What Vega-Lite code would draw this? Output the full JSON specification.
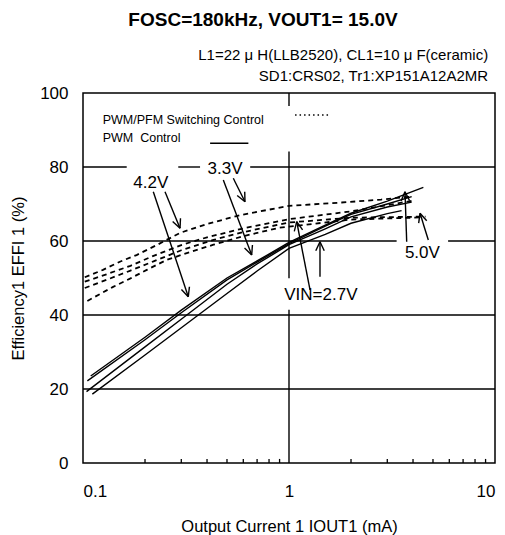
{
  "$schema": "https://vega.github.io/schema/vega-lite/v6.json",
  "width": 412,
  "height": 370,
  "autosize": {"type": "none"},
  "padding": {"left": 83, "top": 93, "right": 10, "bottom": 72},
  "title": {
    "text": "FOSC=180kHz, VOUT1= 15.0V",
    "anchor": "middle",
    "frame": "group",
    "dx": -26,
    "offset": 18,
    "fontSize": 19,
    "fontWeight": "bold",
    "font": "Liberation Sans",
    "color": "black"
  },
  "config": {
    "view": {"stroke": "black", "strokeWidth": 1.5},
    "font": "Liberation Sans",
    "axis": {
      "labelFont": "Liberation Sans",
      "titleFont": "Liberation Sans",
      "labelColor": "black",
      "titleColor": "black",
      "titleFontWeight": "normal",
      "grid": false,
      "domain": false
    }
  },
  "datasets": {
    "pwm": [
      {"s": "S1", "x": 0.109, "y": 23.5}, {"s": "S1", "x": 0.2, "y": 34.0}, {"s": "S1", "x": 0.3, "y": 41.3}, {"s": "S1", "x": 0.5, "y": 50.0}, {"s": "S1", "x": 0.7, "y": 54.6}, {"s": "S1", "x": 1.0, "y": 59.6}, {"s": "S1", "x": 1.5, "y": 64.3}, {"s": "S1", "x": 2.0, "y": 67.5}, {"s": "S1", "x": 3.0, "y": 70.8}, {"s": "S1", "x": 4.49, "y": 74.5},
      {"s": "S2", "x": 0.105, "y": 22.2}, {"s": "S2", "x": 0.2, "y": 33.3}, {"s": "S2", "x": 0.3, "y": 40.6}, {"s": "S2", "x": 0.5, "y": 49.5}, {"s": "S2", "x": 0.7, "y": 54.3}, {"s": "S2", "x": 1.0, "y": 59.3}, {"s": "S2", "x": 1.5, "y": 64.0}, {"s": "S2", "x": 2.0, "y": 67.2}, {"s": "S2", "x": 3.0, "y": 70.0}, {"s": "S2", "x": 3.94, "y": 72.0},
      {"s": "S3", "x": 0.104, "y": 19.3}, {"s": "S3", "x": 0.2, "y": 31.4}, {"s": "S3", "x": 0.319, "y": 40.0}, {"s": "S3", "x": 0.5, "y": 48.3}, {"s": "S3", "x": 0.7, "y": 53.8}, {"s": "S3", "x": 1.0, "y": 59.0}, {"s": "S3", "x": 1.5, "y": 63.3}, {"s": "S3", "x": 2.0, "y": 66.5}, {"s": "S3", "x": 3.0, "y": 69.2}, {"s": "S3", "x": 3.94, "y": 70.5},
      {"s": "S4", "x": 0.111, "y": 18.6}, {"s": "S4", "x": 0.2, "y": 29.2}, {"s": "S4", "x": 0.363, "y": 40.0}, {"s": "S4", "x": 0.5, "y": 45.8}, {"s": "S4", "x": 0.7, "y": 51.9}, {"s": "S4", "x": 1.0, "y": 58.0}, {"s": "S4", "x": 1.5, "y": 61.8}, {"s": "S4", "x": 2.0, "y": 64.8}, {"s": "S4", "x": 3.0, "y": 67.4}, {"s": "S4", "x": 3.52, "y": 68.2}
    ],
    "pfm": [
      {"s": "D1", "x": 0.102, "y": 50.2}, {"s": "D1", "x": 0.125, "y": 52.2}, {"s": "D1", "x": 0.151, "y": 54.4}, {"s": "D1", "x": 0.182, "y": 56.2}, {"s": "D1", "x": 0.228, "y": 58.9}, {"s": "D1", "x": 0.296, "y": 62.2}, {"s": "D1", "x": 0.4, "y": 64.6}, {"s": "D1", "x": 0.58, "y": 67.0}, {"s": "D1", "x": 1.0, "y": 69.5}, {"s": "D1", "x": 1.8, "y": 70.4}, {"s": "D1", "x": 2.8, "y": 71.2}, {"s": "D1", "x": 3.9, "y": 72.0},
      {"s": "D2", "x": 0.102, "y": 49.0}, {"s": "D2", "x": 0.13, "y": 51.0}, {"s": "D2", "x": 0.17, "y": 53.3}, {"s": "D2", "x": 0.22, "y": 56.0}, {"s": "D2", "x": 0.3, "y": 58.9}, {"s": "D2", "x": 0.4, "y": 61.0}, {"s": "D2", "x": 0.6, "y": 63.4}, {"s": "D2", "x": 1.0, "y": 65.9}, {"s": "D2", "x": 2.0, "y": 68.0}, {"s": "D2", "x": 4.1, "y": 71.0},
      {"s": "D3", "x": 0.102, "y": 47.3}, {"s": "D3", "x": 0.13, "y": 49.5}, {"s": "D3", "x": 0.17, "y": 52.0}, {"s": "D3", "x": 0.22, "y": 54.5}, {"s": "D3", "x": 0.3, "y": 57.5}, {"s": "D3", "x": 0.43, "y": 60.3}, {"s": "D3", "x": 0.6, "y": 62.4}, {"s": "D3", "x": 1.0, "y": 65.0}, {"s": "D3", "x": 2.0, "y": 66.3}, {"s": "D3", "x": 4.6, "y": 66.6},
      {"s": "D4", "x": 0.105, "y": 43.8}, {"s": "D4", "x": 0.14, "y": 47.6}, {"s": "D4", "x": 0.17, "y": 49.9}, {"s": "D4", "x": 0.204, "y": 52.2}, {"s": "D4", "x": 0.255, "y": 54.9}, {"s": "D4", "x": 0.31, "y": 56.5}, {"s": "D4", "x": 0.43, "y": 59.0}, {"s": "D4", "x": 0.6, "y": 61.3}, {"s": "D4", "x": 0.9, "y": 63.6}, {"s": "D4", "x": 2.0, "y": 65.8}, {"s": "D4", "x": 4.5, "y": 66.4}
    ],
    "grid": [
      {"x": 0.1, "x2": 10, "y": 20, "y2": 20},
      {"x": 0.1, "x2": 10, "y": 40, "y2": 40},
      {"x": 0.1, "x2": 3.33, "y": 60, "y2": 60},
      {"x": 5.92, "x2": 10, "y": 60, "y2": 60},
      {"x": 0.1, "x2": 0.163, "y": 80, "y2": 80},
      {"x": 0.29, "x2": 0.37, "y": 80, "y2": 80},
      {"x": 0.648, "x2": 10, "y": 80, "y2": 80},
      {"x": 1, "x2": 1, "y": 0, "y2": 41.4},
      {"x": 1, "x2": 1, "y": 49.9, "y2": 84.2},
      {"x": 1, "x2": 1, "y": 96.5, "y2": 100}
    ],
    "minorticks": [
      {"x": 0.2, "y": 0, "y2": 1.1}, {"x": 0.3, "y": 0, "y2": 1.1}, {"x": 0.4, "y": 0, "y2": 1.1}, {"x": 0.5, "y": 0, "y2": 1.1}, {"x": 0.6, "y": 0, "y2": 1.1}, {"x": 0.7, "y": 0, "y2": 1.1}, {"x": 0.8, "y": 0, "y2": 1.1}, {"x": 0.9, "y": 0, "y2": 1.1},
      {"x": 2, "y": 0, "y2": 1.1}, {"x": 3, "y": 0, "y2": 1.1}, {"x": 4, "y": 0, "y2": 1.1}, {"x": 5, "y": 0, "y2": 1.1}, {"x": 6, "y": 0, "y2": 1.1}, {"x": 7, "y": 0, "y2": 1.1}, {"x": 8, "y": 0, "y2": 1.1}, {"x": 9, "y": 0, "y2": 1.1}
    ],
    "arrows": [
      {"x": 0.2194, "y": 73.32, "x2": 0.3244, "y2": 44.95},
      {"x": 0.2501, "y": 73.32, "x2": 0.2958, "y2": 63.43},
      {"x": 0.4799, "y": 76.49, "x2": 0.659, "y2": 56.22},
      {"x": 0.5365, "y": 76.95, "x2": 0.6114, "y2": 70.62},
      {"x": 1.265, "y": 46.76, "x2": 1.09, "y2": 65.22},
      {"x": 1.414, "y": 50.35, "x2": 1.414, "y2": 59.81},
      {"x": 3.727, "y": 59.81, "x2": 3.657, "y2": 73.32},
      {"x": 4.745, "y": 60.27, "x2": 4.325, "y2": 67.49},
      {"x": 0.3244, "y": 44.95, "x2": 0.3286, "y2": 47.63},
      {"x": 0.3244, "y": 44.95, "x2": 0.3005, "y2": 46.91},
      {"x": 0.2958, "y": 63.43, "x2": 0.2973, "y2": 66.13},
      {"x": 0.2958, "y": 63.43, "x2": 0.2724, "y2": 65.26},
      {"x": 0.659, "y": 56.22, "x2": 0.6645, "y2": 58.91},
      {"x": 0.659, "y": 56.22, "x2": 0.6083, "y2": 58.1},
      {"x": 0.6114, "y": 70.62, "x2": 0.6096, "y2": 73.32},
      {"x": 0.6114, "y": 70.62, "x2": 0.5603, "y2": 72.3},
      {"x": 1.09, "y": 65.22, "x2": 1.061, "y2": 62.59},
      {"x": 1.09, "y": 65.22, "x2": 1.164, "y2": 63.03},
      {"x": 1.414, "y": 59.81, "x2": 1.349, "y2": 57.36},
      {"x": 1.414, "y": 59.81, "x2": 1.483, "y2": 57.36},
      {"x": 3.657, "y": 73.32, "x2": 3.501, "y2": 70.84},
      {"x": 3.657, "y": 73.32, "x2": 3.848, "y2": 70.92},
      {"x": 4.325, "y": 67.49, "x2": 4.26, "y2": 64.81},
      {"x": 4.325, "y": 67.49, "x2": 4.662, "y2": 65.49}
    ],
    "labels": [
      {"x": 0.2133, "y": 75.6, "text": "4.2V"},
      {"x": 0.489, "y": 79.46, "text": "3.3V"},
      {"x": 1.428, "y": 45.4, "text": "VIN=2.7V"},
      {"x": 4.44, "y": 56.68, "text": "5.0V"}
    ],
    "legendtext": [
      {"x": 0.1246, "y": 92.7, "text": "PWM/PFM Switching Control"},
      {"x": 0.1246, "y": 87.9, "text": "PWM\u00a0 Control"}
    ],
    "legendpfm": [{"x": 1.07, "x2": 1.6, "y": 94.05, "y2": 94.05}],
    "legendpwm": [{"x": 0.414, "x2": 0.635, "y": 86.4, "y2": 86.4}],
    "subtitle": [
      {"x": 9.26, "y": 110.27, "text": "L1=22 μ H(LLB2520), CL1=10 μ F(ceramic)"},
      {"x": 9.26, "y": 104.59, "text": "SD1:CRS02, Tr1:XP151A12A2MR"}
    ]
  },
  "encoding": {
    "x": {
      "field": "x",
      "type": "quantitative",
      "scale": {"type": "log", "domain": [0.1, 10], "nice": false},
      "axis": {
        "title": "Output Current 1 IOUT1 (mA)",
        "titleFontSize": 16.5,
        "titlePadding": 19,
        "labelFontSize": 17,
        "values": [0.1, 1, 10],
        "labelExpr": "datum.value == 0.1 ? '0.1' : datum.value == 1 ? '1' : '10'",
        "ticks": true,
        "tickSize": 0,
        "labelPadding": 20,
        "labelOverlap": false
      }
    },
    "y": {
      "field": "y",
      "type": "quantitative",
      "scale": {"domain": [0, 100], "nice": false, "zero": false},
      "axis": {
        "title": "Efficiency1 EFFI 1 (%)",
        "titleFontSize": 16.5,
        "titlePadding": 13,
        "labelFontSize": 17,
        "values": [0, 20, 40, 60, 80, 100],
        "ticks": true,
        "tickSize": 0,
        "labelPadding": 15
      }
    }
  },
  "layer": [
    {
      "data": {"name": "grid"},
      "mark": {"type": "rule", "color": "black", "strokeWidth": 1.4},
      "encoding": {"x2": {"field": "x2"}, "y2": {"field": "y2"}}
    },
    {
      "data": {"name": "minorticks"},
      "mark": {"type": "rule", "color": "black", "strokeWidth": 1.3},
      "encoding": {"y2": {"field": "y2"}}
    },
    {
      "data": {"name": "pfm"},
      "mark": {"type": "line", "color": "black", "strokeWidth": 1.8, "strokeDash": [5, 4]},
      "encoding": {"detail": {"field": "s"}}
    },
    {
      "data": {"name": "pwm"},
      "mark": {"type": "line", "color": "black", "strokeWidth": 1.4},
      "encoding": {"detail": {"field": "s"}}
    },
    {
      "data": {"name": "arrows"},
      "mark": {"type": "rule", "color": "black", "strokeWidth": 1.4},
      "encoding": {"x2": {"field": "x2"}, "y2": {"field": "y2"}}
    },
    {
      "data": {"name": "legendpfm"},
      "mark": {"type": "rule", "color": "black", "strokeWidth": 1.3, "strokeDash": [1.5, 3]},
      "encoding": {"x2": {"field": "x2"}, "y2": {"field": "y2"}}
    },
    {
      "data": {"name": "legendpwm"},
      "mark": {"type": "rule", "color": "black", "strokeWidth": 1.4},
      "encoding": {"x2": {"field": "x2"}, "y2": {"field": "y2"}}
    },
    {
      "data": {"name": "labels"},
      "mark": {"type": "text", "color": "black", "fontSize": 17, "font": "Liberation Sans", "align": "center", "baseline": "middle"},
      "encoding": {"text": {"field": "text"}}
    },
    {
      "data": {"name": "legendtext"},
      "mark": {"type": "text", "color": "black", "fontSize": 12.5, "font": "Liberation Sans", "align": "left", "baseline": "middle"},
      "encoding": {"text": {"field": "text"}}
    },
    {
      "data": {"name": "subtitle"},
      "mark": {"type": "text", "color": "black", "fontSize": 15, "font": "Liberation Sans", "align": "right", "baseline": "middle"},
      "encoding": {"text": {"field": "text"}}
    }
  ]
}
